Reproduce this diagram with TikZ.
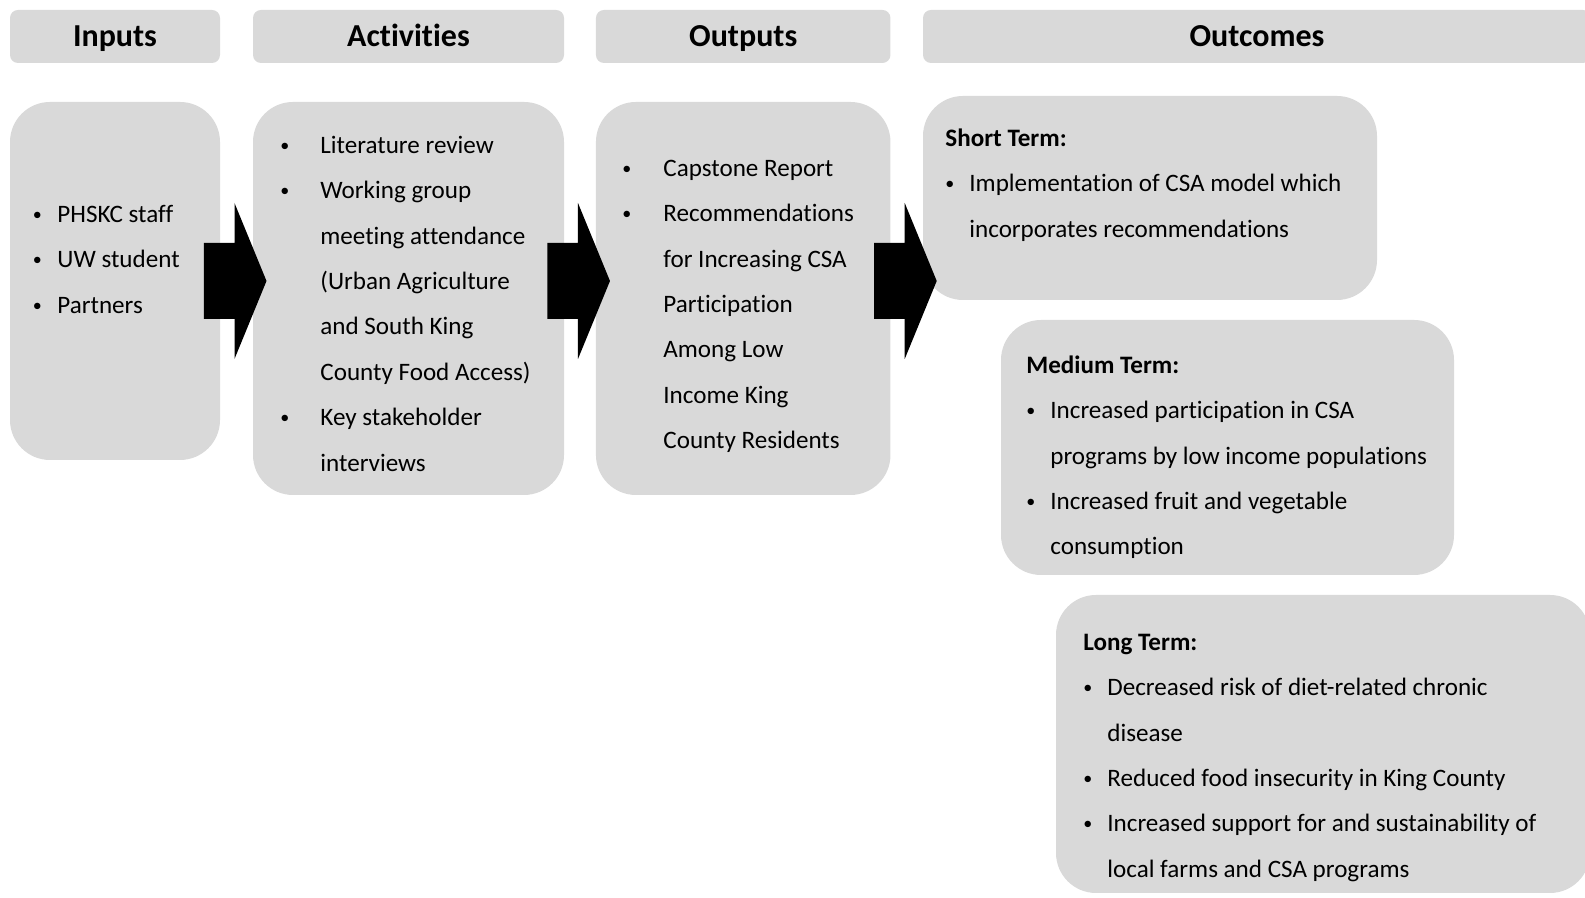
\documentclass[tikz,border=0pt]{standalone}
\usepackage{fontspec}
\setmainfont{Carlito}[Ligatures=NoCommon]
\usetikzlibrary{calc}

\definecolor{boxgray}{HTML}{D9D9D9}
\newlength\bw
\newcommand\bl{\makebox[\bw][l]{\raisebox{1pt}{\scalebox{0.72}{\textbullet}}}}
\newcommand\cl{\hspace*{\bw}}

\tikzset{
  head/.style={fill=boxgray, rounded corners=4pt, minimum height=26.5pt, inner sep=0pt,
    text height=10.3pt, text depth=0pt, font=\fontsize{16}{19}\selectfont\bfseries},
  panel/.style={fill=boxgray, rounded corners=20pt, inner sep=0pt},
  items/.style={anchor=north west, inner sep=0pt, align=left,
    font=\fontsize{12.55}{22.7}\selectfont\setlength\bw{#1}},
  % fat arrow, tip at the pic origin
  blockarrow/.pic={\fill (0,0) -- (-16,39) -- (-16,19) -- (-31.3,19)
    -- (-31.3,-19) -- (-16,-19) -- (-16,-39) -- cycle;}
}

\begin{document}
\begin{tikzpicture}[x=1pt,y=1pt]
\clip (0,0) rectangle (792.5,449);
% column headings
\node[head, minimum width=105pt] (hin) at (57.5,430.75) {Inputs};
\node[head, minimum width=155.5pt] (hact) at (204.25,430.75) {Activities};
\node[head, minimum width=147.25pt] (hout) at (371.6,430.75) {Outputs};
\node[head, minimum width=334pt] (hres) at (628.5,430.75) {Outcomes};

% panels
\node[panel, minimum width=105pt, minimum height=179pt] (inputs) at (57.5,308.5) {};
\node[panel, minimum width=155.5pt, minimum height=196.5pt] (activities) at (204.25,299.75) {};
\node[panel, minimum width=147.25pt, minimum height=196.5pt] (outputs) at (371.6,299.75) {};
\node[panel, minimum width=227pt, minimum height=102pt] (short) at (575,350) {};
\node[panel, minimum width=226.5pt, minimum height=127.5pt] (medium) at (613.75,225.25) {};
\node[panel, minimum width=267pt, minimum height=149pt] (long) at (661.5,77) {};

% block arrows between the panels
\coordinate (g1) at ($(inputs.east)!.5!(activities.west)+(15,0)$);
\coordinate (g2) at ($(activities.east)!.5!(outputs.west)+(15,0)$);
\coordinate (g3) at ($(outputs.east)!.5!(short.west)+(15,0)$);
\pic (a1) at (g1 |- inputs.center) {blockarrow};
\pic (a2) at (g2 |- inputs.center) {blockarrow};
\pic (a3) at (g3 |- inputs.center) {blockarrow};

% panel texts
\node[items=12.25pt] (tin) at (16.25,353.9) {\strut\bl PHSKC staff\\ \bl UW student\\ \bl Partners};
\node[items=20pt] (tact) at (140,388.4) {\strut\bl Literature review\\ \bl Working group\\
  \cl meeting attendance\\ \cl (Urban Agriculture\\ \cl and South King\\
  \cl County Food Access)\\ \bl Key stakeholder\\ \cl interviews};
\node[items=20.5pt] (tout) at (311,376.9) {\strut\bl Capstone Report\\ \bl Recommendations\\
  \cl for Increasing CSA\\ \cl Participation\\ \cl Among Low\\ \cl Income King\\
  \cl County Residents};
\node[items=12pt] (tshort) at (472.5,391.9) {\strut\textbf{Short Term:}\\
  \bl Implementation of CSA model which\\ \cl incorporates recommendations};
\node[items=12pt] (tmed) at (513,278.4) {\strut\textbf{Medium Term:}\\
  \bl Increased participation in CSA\\ \cl programs by low income populations\\
  \bl Increased fruit and vegetable\\ \cl consumption};
\node[items=12pt] (tlong) at (541.5,139.9) {\strut\textbf{Long Term:}\\
  \bl Decreased risk of diet-related chronic\\ \cl disease\\
  \bl Reduced food insecurity in King County\\
  \bl Increased support for and sustainability of\\ \cl local farms and CSA programs};
\end{tikzpicture}
\end{document}
